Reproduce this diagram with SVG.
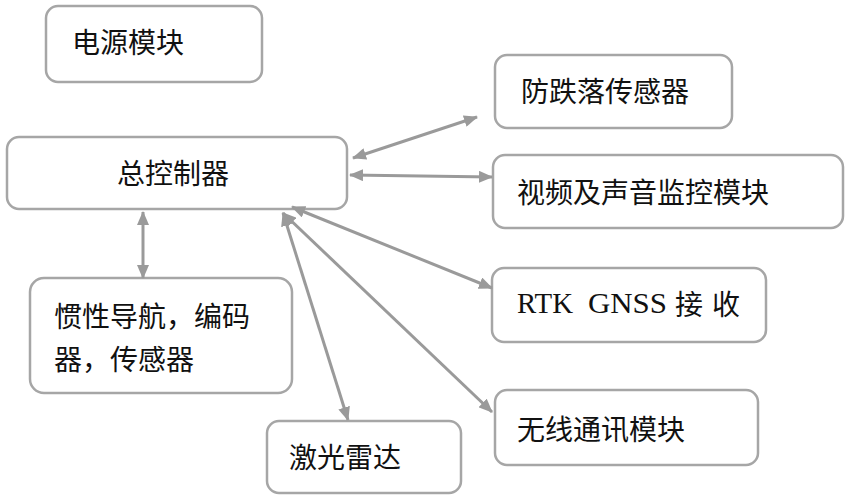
<svg xmlns="http://www.w3.org/2000/svg" width="849" height="500" viewBox="0 0 849 500">
<defs>
<style>
.box{fill:#fff;stroke:#a6a6a6;stroke-width:2.5}
.t{font-family:"Noto Sans CJK SC","Liberation Sans",sans-serif;font-size:28px;fill:#111}
.s{font-family:"Liberation Serif",serif;font-size:29px;fill:#111}
.c{stroke:#9a9a9a;stroke-width:3;fill:none;marker-start:url(#ah);marker-end:url(#ah)}
</style>
<marker id="ah" markerUnits="userSpaceOnUse" viewBox="0 0 14 12" markerWidth="14" markerHeight="12" refX="13" refY="6" orient="auto-start-reverse">
<path d="M0,0 L14,6 L0,12 z" fill="#9a9a9a"/>
</marker>
</defs>
<rect width="849" height="500" fill="#fff"/>
<g id="power"><rect class="box" x="46" y="6" width="216" height="76" rx="12"/><text class="t" x="72" y="53">电源模块</text></g>
<g id="controller"><rect class="box" x="7" y="137" width="340" height="72" rx="12"/><text class="t" x="117" y="184">总控制器</text></g>
<g id="antifall"><rect class="box" x="495" y="55" width="237" height="73" rx="12"/><text class="t" x="521" y="102">防跌落传感器</text></g>
<g id="video"><rect class="box" x="493" y="155" width="350" height="73" rx="12"/><text class="t" x="517" y="203">视频及声音监控模块</text></g>
<g id="rtk"><rect class="box" x="492" y="268" width="274" height="74" rx="12"/><text class="s" y="313"><tspan x="517" textLength="56" lengthAdjust="spacingAndGlyphs">RTK</tspan><tspan x="588" textLength="79" lengthAdjust="spacingAndGlyphs">GNSS</tspan></text><text class="t" y="315"><tspan x="675">接</tspan><tspan x="712">收</tspan></text></g>
<g id="wireless"><rect class="box" x="495" y="390" width="263" height="75" rx="12"/><text class="t" x="517" y="440">无线通讯模块</text></g>
<g id="ins"><rect class="box" x="30" y="278" width="262" height="115" rx="14"/><text class="t" x="54" y="327">惯性导航，编码</text><text class="t" x="54" y="370">器，传感器</text></g>
<g id="lidar"><rect class="box" x="267" y="421" width="194" height="72" rx="12"/><text class="t" x="289" y="468">激光雷达</text></g>
<g id="connectors">
<line class="c" x1="143" y1="212" x2="143" y2="278"/>
<line class="c" x1="353" y1="158" x2="477" y2="117"/>
<line class="c" x1="350" y1="175" x2="492" y2="177"/>
<line class="c" x1="292" y1="207" x2="492" y2="288"/>
<line class="c" x1="283" y1="213" x2="492" y2="412"/>
<line class="c" x1="283" y1="213" x2="348" y2="420"/>
</g>
</svg>
